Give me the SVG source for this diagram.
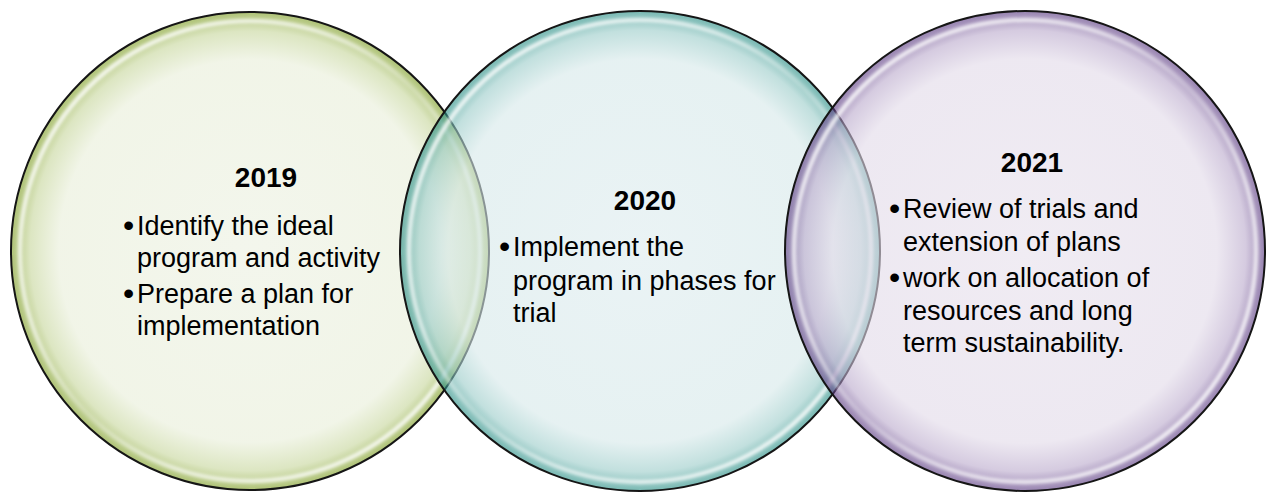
<svg xmlns="http://www.w3.org/2000/svg" width="1267" height="492" viewBox="0 0 1267 492">
<defs>
<radialGradient id="gGreen" cx="0.5" cy="0.5" r="0.5">
<stop offset="0" stop-color="#EBF0E0"/>
<stop offset="0.80" stop-color="#E8EED8"/>
<stop offset="0.92" stop-color="#C5D599"/>
<stop offset="1" stop-color="#78991A"/>
</radialGradient>
<radialGradient id="gTeal" cx="0.5" cy="0.5" r="0.5">
<stop offset="0" stop-color="#DCEBEE"/>
<stop offset="0.80" stop-color="#D5E8E9"/>
<stop offset="0.92" stop-color="#99CBC8"/>
<stop offset="1" stop-color="#1E897F"/>
</radialGradient>
<radialGradient id="gPurple" cx="0.5" cy="0.5" r="0.5">
<stop offset="0" stop-color="#E6DFEB"/>
<stop offset="0.80" stop-color="#E1D9E8"/>
<stop offset="0.92" stop-color="#B9A8CB"/>
<stop offset="1" stop-color="#52307B"/>
</radialGradient>
<linearGradient id="shine" x1="0" y1="0" x2="1" y2="1">
<stop offset="0" stop-color="#FFFFFF" stop-opacity="1"/>
<stop offset="0.35" stop-color="#FFFFFF" stop-opacity="0.65"/>
<stop offset="0.5" stop-color="#FFFFFF" stop-opacity="0.25"/>
<stop offset="0.65" stop-color="#FFFFFF" stop-opacity="0.65"/>
<stop offset="1" stop-color="#FFFFFF" stop-opacity="1"/>
</linearGradient>
<filter id="soft" x="-10%" y="-10%" width="120%" height="120%">
<feGaussianBlur stdDeviation="1.6"/>
</filter>
</defs>
<style>
.fill{fill-opacity:0.6}
.ring{fill:none;stroke:url(#shine);stroke-width:4.5;filter:url(#soft);opacity:0.9}
.edge{fill:none;stroke:#151515;stroke-width:2}
.yr{font-family:"Liberation Sans",Arial,sans-serif;font-weight:bold;font-size:28px;fill:#000;text-anchor:middle}
.tx{font-family:"Liberation Sans",Arial,sans-serif;font-size:27px;fill:#000}
.bu{font-family:"Liberation Sans",Arial,sans-serif;font-size:32px;fill:#000}
</style>
<g id="node-2019">
<circle class="fill" cx="250" cy="251" r="239" fill="url(#gGreen)"/>
<circle class="ring" cx="250" cy="251" r="230"/>
<circle class="edge" cx="250" cy="251" r="239"/>
<text class="yr" x="266" y="187">2019</text>
<text class="bu" x="123" y="236">•</text>
<text class="tx" x="137" y="235">Identify the ideal</text>
<text class="tx" x="137" y="267">program and activity</text>
<text class="bu" x="123" y="304">•</text>
<text class="tx" x="137" y="303">Prepare a plan for</text>
<text class="tx" x="137" y="335">implementation</text>
</g>
<g id="node-2020">
<circle class="fill" cx="640" cy="251" r="240" fill="url(#gTeal)"/>
<circle class="ring" cx="640" cy="251" r="231"/>
<circle class="edge" cx="640" cy="251" r="240"/>
<text class="yr" x="645" y="210">2020</text>
<text class="bu" x="499" y="257">•</text>
<text class="tx" x="513" y="256">Implement the</text>
<text class="tx" x="513" y="290">program in phases for</text>
<text class="tx" x="513" y="322">trial</text>
</g>
<g id="node-2021">
<circle class="fill" cx="1025" cy="251" r="240" fill="url(#gPurple)"/>
<circle class="ring" cx="1025" cy="251" r="231"/>
<circle class="edge" cx="1025" cy="251" r="240"/>
<text class="yr" x="1032" y="172">2021</text>
<text class="bu" x="889" y="219">•</text>
<text class="tx" x="903" y="218">Review of trials and</text>
<text class="tx" x="903" y="251">extension of plans</text>
<text class="bu" x="889" y="288">•</text>
<text class="tx" x="903" y="287">work on allocation of</text>
<text class="tx" x="903" y="320">resources and long</text>
<text class="tx" x="903" y="352">term sustainability.</text>
</g>
<g id="connectors"/>
</svg>
